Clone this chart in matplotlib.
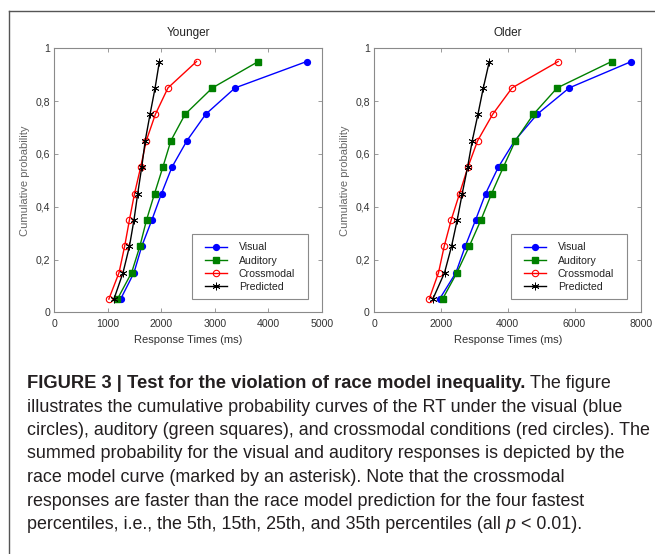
import matplotlib
matplotlib.use("Agg")
import matplotlib.pyplot as plt
from matplotlib.lines import Line2D
from matplotlib.patches import Rectangle
from matplotlib.transforms import IdentityTransform

plt.rcParams['font.family'] = ['Liberation Sans', 'DejaVu Sans']

# ---------------- data ----------------
probs = [0.05, 0.15, 0.25, 0.35, 0.45, 0.55, 0.65, 0.75, 0.85, 0.95]

young_visual = [1240, 1490, 1635, 1825, 2005, 2200, 2480, 2830, 3380, 4720]
young_auditory = [1180, 1445, 1600, 1725, 1875, 2030, 2180, 2445, 2955, 3815]
young_cross = [1020, 1210, 1315, 1405, 1500, 1615, 1720, 1890, 2125, 2660]
young_pred = [1115, 1285, 1405, 1490, 1560, 1635, 1700, 1790, 1885, 1965]

old_visual = [1960, 2450, 2730, 3040, 3340, 3720, 4210, 4880, 5840, 7700]
old_auditory = [2050, 2480, 2850, 3200, 3520, 3870, 4230, 4770, 5480, 7110]
old_cross = [1650, 1930, 2100, 2310, 2560, 2810, 3100, 3550, 4130, 5510]
old_pred = [1760, 2110, 2320, 2490, 2640, 2800, 2940, 3110, 3270, 3450]

series_labels = ["Visual", "Auditory", "Crossmodal", "Predicted"]
panel_titles = ["Younger", "Older"]
young_xticks = [0, 1000, 2000, 3000, 4000, 5000]
old_xticks = [0, 2000, 4000, 6000, 8000]
yticks = [0, 0.2, 0.4, 0.6, 0.8, 1.0]
ytick_labels = ["0", "0,2", "0,4", "0,6", "0,8", "1"]

caption_lines = [
    [("FIGURE 3 | Test for the violation of race model inequality.", "bold"), (" The figure", "normal")],
    [("illustrates the cumulative probability curves of the RT under the visual (blue", "normal")],
    [("circles), auditory (green squares), and crossmodal conditions (red circles). The", "normal")],
    [("summed probability for the visual and auditory responses is depicted by the", "normal")],
    [("race model curve (marked by an asterisk). Note that the crossmodal", "normal")],
    [("responses are faster than the race model prediction for the four fastest", "normal")],
    [("percentiles, i.e., the 5th, 15th, 25th, and 35th percentiles (all", "normal"),
     (" p", "italic"), (" < 0.01).", "normal")],
]

# ---------------- figure ----------------
W, H = 655, 554
fig = plt.figure(figsize=(W / 100, H / 100), dpi=100)

spine_col = "#8a8a8a"
txt_col = "#333333"

styles = [
    dict(color="#0000ff", marker="o", markersize=4.2, markerfacecolor="#0000ff", markeredgecolor="#0000ff"),
    dict(color="#008000", marker="s", markersize=4.2, markerfacecolor="#008000", markeredgecolor="#008000"),
    dict(color="#ff0000", marker="o", markersize=4.6, markerfacecolor="none", markeredgecolor="#ff0000", markeredgewidth=0.8),
    dict(color="#000000", marker=(6, 2, 0), markersize=5.5, markeredgecolor="#000000", markeredgewidth=0.6),
]

panels = [
    (young_visual, young_auditory, young_cross, young_pred, young_xticks, 5000, 54.3, 191.7),
    (old_visual, old_auditory, old_cross, old_pred, old_xticks, 8000, 374.0, 510.7),
]

ax_w = 267.4
ax_top = 48.3
ax_bot = 312.3
for i, (v, a, c, p, xt, xmax, left, leg_left) in enumerate(panels):
    ax = fig.add_axes([left / W, (H - ax_bot) / H, ax_w / W, (ax_bot - ax_top) / H])
    for data, lab, st in zip([v, a, c, p], series_labels, styles):
        ax.plot(data, probs, label=lab, linewidth=1.0, **st)
    ax.set_xlim(0, xmax)
    ax.set_ylim(0, 1)
    ax.set_xticks(xt)
    ax.set_xticklabels([str(t) for t in xt])
    ax.set_yticks(yticks)
    ax.set_yticklabels(ytick_labels)
    ax.tick_params(axis="both", direction="in", length=3, width=0.6, color=spine_col,
                   labelsize=7.6, labelcolor=txt_col, top=True, right=True)
    ax.tick_params(axis="x", pad=5)
    ax.tick_params(axis="y", pad=3)
    for s in ax.spines.values():
        s.set_color(spine_col)
        s.set_linewidth(0.8)
    ax.set_title(panel_titles[i], fontsize=8.5, color="#222222", pad=9)
    ax.set_xlabel("Response Times (ms)", fontsize=8, color=txt_col, labelpad=4)
    ax.set_ylabel("Cumulative probability", fontsize=8, color="#666666", labelpad=4)
    # legend frame drawn separately (wider horizontal padding than matplotlib's)
    frame = Rectangle((leg_left / W, (H - 299) / H), 116.3 / W, 65 / H,
                      transform=fig.transFigure, facecolor="white",
                      edgecolor=spine_col, linewidth=0.8, zorder=4, clip_on=False)
    ax.add_patch(frame)
    leg = ax.legend(loc="upper left", bbox_to_anchor=((leg_left + 13.3) / W, 1 - 242.5 / H),
                    bbox_transform=fig.transFigure, fontsize=7.6,
                    frameon=False, handlelength=2.1, handletextpad=1.1, labelspacing=0.3,
                    borderpad=0.0, borderaxespad=0.0)
    leg.set_zorder(5)
    for t in leg.get_texts():
        t.set_color("#222222")

# frame lines (top and left)
fig.add_artist(Line2D([9.3 / W, 9.3 / W], [0, (H - 11) / H], color="#555555", linewidth=1.0,
                      transform=fig.transFigure))
fig.add_artist(Line2D([9.3 / W, 1.0], [(H - 11) / H, (H - 11) / H], color="#555555", linewidth=1.0,
                      transform=fig.transFigure))

# ---------------- caption ----------------
renderer = fig.canvas.get_renderer()
cap_col = "#231f20"
baselines = [388, 411.5, 435, 458.5, 482, 505.5, 529]
x0 = 26.7
fam = ['Liberation Sans', 'DejaVu Sans']


def text_width(s, size, weight="normal", style="normal"):
    t = fig.text(0, 0, s, fontsize=size, fontweight=weight, fontstyle=style, family=fam,
                 transform=IdentityTransform())
    w = t.get_window_extent(renderer).width
    t.remove()
    return w


# fit font sizes so the caption lines span the same widths as in the reference
ref_w2 = 624 - x0
ref_w3 = 652 - x0
w2 = text_width(caption_lines[1][0][0], 11.6)
w3 = text_width(caption_lines[2][0][0], 11.6)
size_n = 11.6 * 0.5 * (ref_w2 / w2 + ref_w3 / w3)
space_w = text_width("x x", size_n) - text_width("xx", size_n)
tail_w = text_width("The figure", size_n) + space_w
wb = text_width(caption_lines[0][0][0], 11.6, weight="bold")
size_b = 11.6 * ((614 - x0) - tail_w) / wb

for segs, yb in zip(caption_lines, baselines):
    x = x0
    for s, kind in segs:
        weight = "bold" if kind == "bold" else "normal"
        style = "italic" if kind == "italic" else "normal"
        size = size_b if kind == "bold" else size_n
        lead = len(s) - len(s.lstrip(" "))
        x += lead * space_w
        s2 = s.strip(" ")
        t = fig.text(x, H - yb, s2, fontsize=size, fontweight=weight, fontstyle=style, family=fam,
                     color=cap_col, va="baseline", ha="left", transform=IdentityTransform())
        x = t.get_window_extent(renderer).x1

fig.savefig("out.png", dpi=100)
